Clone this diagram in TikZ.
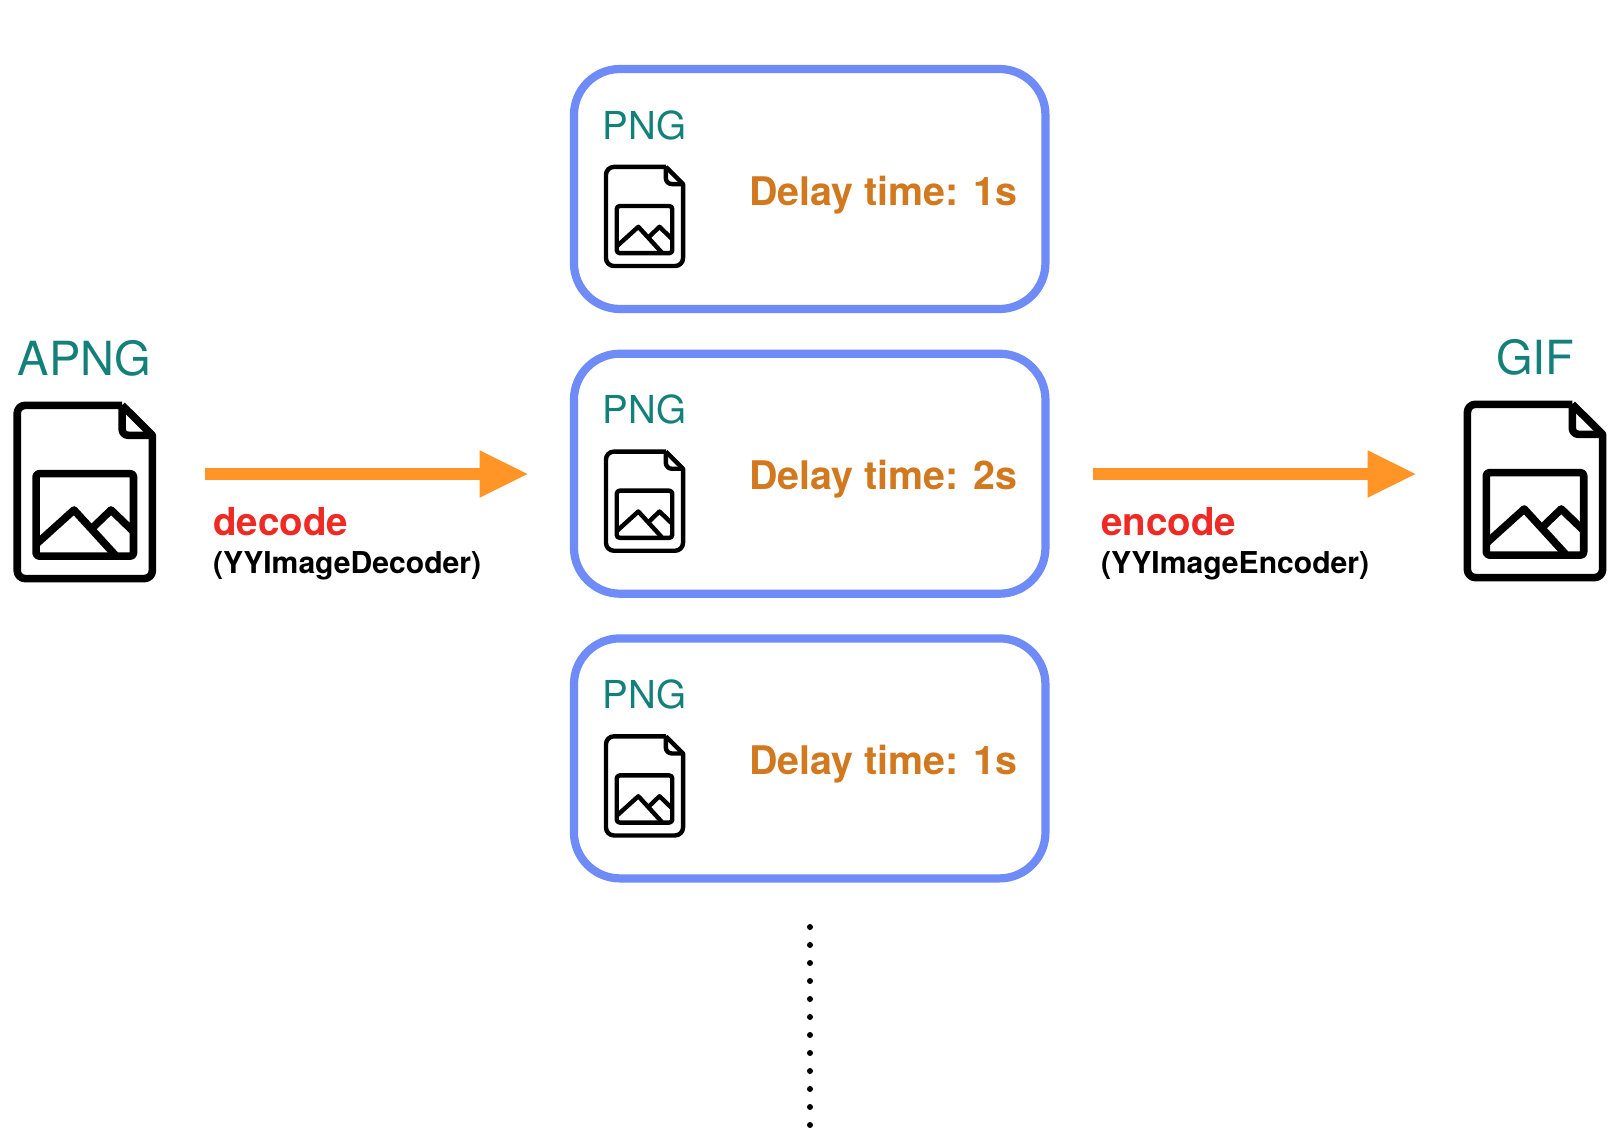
\documentclass[tikz,border=0pt]{standalone}
\usepackage{fontspec}
\setmainfont{TeX Gyre Heros}
\usetikzlibrary{arrows.meta}
\definecolor{teal1}{HTML}{13817A}
\definecolor{blue1}{HTML}{6F8BF8}
\definecolor{orange1}{HTML}{FF9526}
\definecolor{ochre1}{HTML}{D2791F}
\definecolor{red1}{HTML}{EE2A24}
\tikzset{
  x=1pt,y=-1pt,
  bigtitle/.style={anchor=base west,inner sep=0pt,text=teal1,font=\fontsize{47}{50}\selectfont},
  pngtitle/.style={anchor=base west,inner sep=0pt,text=teal1,font=\fontsize{38.5}{42}\selectfont},
  delaytext/.style={anchor=base west,inner sep=0pt,text=ochre1,font=\fontsize{39.4}{44}\selectfont\bfseries},
  optext/.style={anchor=base west,inner sep=0pt,text=red1,font=\fontsize{38.5}{42}\selectfont\bfseries},
  libtext/.style={anchor=base west,inner sep=0pt,text=black,font=\fontsize{30.1}{34}\selectfont\bfseries},
  framebox/.style={draw=blue1,line width=8.2pt,rounded corners=46pt,minimum width=471.5pt,minimum height=240pt,inner sep=0pt,outer sep=0pt},
  flowarrow/.style={draw=orange1,line width=12.4pt,-{Triangle[length=48pt,width=47.5pt,fill=orange1,line width=0pt]}},
  dotmark/.style={circle,fill=black,inner sep=0pt,minimum size=6pt},
  pics/fileicon/.style n args={3}{code={
    \begin{scope}[x=#1pt,y=-#2pt,line width=#3pt,line join=round]
    \draw (.763,.0185) -- (.976,.185)
      [rounded corners=8pt] -- (.976,.981) -- (.024,.981) -- (.024,.0185) -- (.763,.0185);
    \draw[rounded corners=6pt] (.763,.0185) -- (.763,.185) -- (.976,.185);
    \draw[rounded corners=3pt] (.157,.398) rectangle (.843,.856);
    \draw (.157,.79) -- (.424,.6) -- (.714,.85);
    \draw (.557,.697) -- (.685,.6) -- (.843,.72);
    \end{scope}
  }},
}
\begin{document}
\begin{tikzpicture}
\useasboundingbox (0,0) rectangle (1620,1148);
\fill[white] (0,0) rectangle (1620,1148);

\node[bigtitle] (apng) at (17.5,375.5) {APNG};
\node[bigtitle,anchor=base] (gif) at (1535.5,374) {GIF};
\pic (iconA) at (13.8,402) {fileicon={142}{180}{7.6}};
\pic (iconG) at (1464,401) {fileicon={142}{180}{7.6}};

\foreach \nm/\dy/\dl in {one/0/1s,two/284.7/2s,three/569.4/1s}{
  \node[framebox] (box\nm) at (809.7,189+\dy) {};
  \node[pngtitle] (png\nm) at (602.5,139+\dy) {PNG};
  \pic (icon\nm) at (604,165+\dy) {fileicon={81}{103}{4.4}};
  \node[delaytext] (delay\nm) at (749,205+\dy) {Delay time: \dl};
}

\coordinate (decA) at (205,474);
\coordinate (decB) at (527.5,474);
\coordinate (encA) at (1093,474);
\coordinate (encB) at (1415.5,474);
\draw[flowarrow] (decA) -- (decB);
\draw[flowarrow] (encA) -- (encB);

\node[optext] (decode) at (213,535) {decode};
\node[libtext] (declib) at (213,573) {(YYImageDecoder)};
\node[optext] (encode) at (1101,535) {encode};
\node[libtext] (enclib) at (1101,573) {(YYImageEncoder)};

\foreach \i in {0,...,11}{
  \node[dotmark] (dot\i) at (810,927+18*\i) {};
}
\end{tikzpicture}
\end{document}
